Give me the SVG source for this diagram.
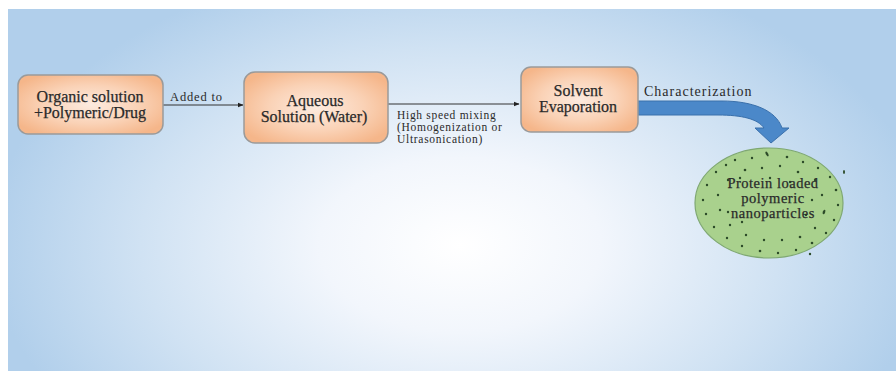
<svg xmlns="http://www.w3.org/2000/svg" width="896" height="371" viewBox="0 0 896 371">
  <defs>
    <radialGradient id="bg" gradientUnits="userSpaceOnUse" cx="460" cy="245" r="470" gradientTransform="translate(460 245) scale(1 0.62) translate(-460 -245)">
      <stop offset="0" stop-color="#ffffff"/>
      <stop offset="0.3" stop-color="#f2f6fc"/>
      <stop offset="0.68" stop-color="#d0e2f3"/>
      <stop offset="1" stop-color="#b1cfeb"/>
    </radialGradient>
    <radialGradient id="peach" cx="0.5" cy="0.5" r="0.6">
      <stop offset="0" stop-color="#fdebdf"/>
      <stop offset="0.55" stop-color="#fad2b6"/>
      <stop offset="1" stop-color="#f5b68a"/>
    </radialGradient>
    <marker id="tip" viewBox="0 0 10 10" refX="9" refY="5" markerWidth="6" markerHeight="6" orient="auto" markerUnits="userSpaceOnUse">
      <path d="M0,1 L10,5 L0,9 Z" fill="#222"/>
    </marker>
    <style>
      .box { fill: url(#peach); stroke: #9a9a9a; stroke-width: 1.5; }
      .lbl { fill: #2a2a2a; text-anchor: middle; }
      .node { font-size: 16px; stroke: #2a2a2a; stroke-width: 0.25; }
      .small { font-size: 14.5px; letter-spacing: 0.5px; }
      .edge { font-size: 11.5px; text-anchor: start; letter-spacing: 0.7px; }
      .added { font-size: 12.5px; letter-spacing: 0.85px; }
      .char { font-size: 14px; letter-spacing: 1px; }
      .line { stroke: #333; stroke-width: 1; fill: none; }
      .dot { fill: #2c4a28; }
    </style>
  </defs>

  <!-- backdrop -->
  <rect width="896" height="371" fill="#ffffff"/>
  <rect x="8" y="9" width="888" height="362" fill="url(#bg)"/>

  <g font-family="'Liberation Serif', 'Times New Roman', 'DejaVu Serif', serif">
  <!-- connectors -->
  <g id="connectors">
    <line class="line" x1="163" y1="105" x2="243" y2="105" marker-end="url(#tip)"/>
    <text class="lbl edge added" x="170" y="101">Added to</text>
    <line class="line" x1="388" y1="104" x2="519" y2="104" marker-end="url(#tip)"/>
    <text class="lbl edge" x="397" y="119">High speed mixing</text>
    <text class="lbl edge" x="397" y="131">(Homogenization or</text>
    <text class="lbl edge" x="397" y="143">Ultrasonication)</text>
    <text class="lbl edge char" x="644" y="96">Characterization</text>
    <!-- curved block arrow -->
    <path d="M638,101 L722,101 C752,101 776,110 782,128 L789,128 L771,143 L755,128 L764,128 C758,119 742,115 718,115 L638,115 Z" fill="#4b88c9" stroke="#3a70ab" stroke-width="1"/>
  </g>

  <g id="organic">
    <rect class="box" x="18" y="75" width="145" height="59" rx="10"/>
    <text class="lbl node" x="90" y="102">Organic solution</text>
    <text class="lbl node" x="90" y="118">+Polymeric/Drug</text>
  </g>

  <g id="aqueous">
    <rect class="box" x="244" y="72" width="144" height="71" rx="11"/>
    <text class="lbl node" x="315" y="106">Aqueous</text>
    <text class="lbl node" x="314" y="122">Solution (Water)</text>
  </g>

  <g id="evaporation">
    <rect class="box" x="521" y="67" width="117" height="65" rx="10"/>
    <text class="lbl node" x="578" y="96">Solvent</text>
    <text class="lbl node" x="578" y="112">Evaporation</text>
  </g>

  <g id="nanoparticles">
    <ellipse cx="769" cy="203" rx="74" ry="55" fill="#a9d18d" stroke="#7fa872" stroke-width="1.2"/>
    <g>
      <circle class="dot" cx="735" cy="160" r="1.2"/><circle class="dot" cx="752" cy="158" r="1.2"/>
      <ellipse class="dot" cx="767" cy="154" rx="1.2" ry="2.6" transform="rotate(-30 767 154)"/>
      <circle class="dot" cx="787" cy="157" r="1.3"/><circle class="dot" cx="803" cy="162" r="1.2"/>
      <circle class="dot" cx="818" cy="168" r="1.2"/><circle class="dot" cx="830" cy="177" r="1.2"/>
      <circle class="dot" cx="836" cy="190" r="1.3"/><circle class="dot" cx="838" cy="205" r="1.2"/>
      <circle class="dot" cx="834" cy="220" r="1.2"/><circle class="dot" cx="826" cy="233" r="1.2"/>
      <circle class="dot" cx="812" cy="243" r="1.3"/><circle class="dot" cx="796" cy="250" r="1.2"/>
      <circle class="dot" cx="778" cy="253" r="1.2"/><circle class="dot" cx="760" cy="251" r="1.3"/>
      <circle class="dot" cx="742" cy="246" r="1.2"/><circle class="dot" cx="727" cy="238" r="1.2"/>
      <circle class="dot" cx="714" cy="227" r="1.2"/><circle class="dot" cx="706" cy="214" r="1.2"/>
      <circle class="dot" cx="703" cy="200" r="1.2"/><circle class="dot" cx="707" cy="185" r="1.2"/>
      <circle class="dot" cx="716" cy="172" r="1.2"/><circle class="dot" cx="726" cy="165" r="1.2"/>
      <circle class="dot" cx="745" cy="170" r="1.3"/><circle class="dot" cx="762" cy="168" r="1.2"/>
      <circle class="dot" cx="780" cy="166" r="1.2"/><circle class="dot" cx="798" cy="172" r="1.3"/>
      <circle class="dot" cx="815" cy="180" r="1.2"/><circle class="dot" cx="822" cy="195" r="1.2"/>
      <ellipse class="dot" cx="824" cy="212" rx="1.2" ry="2.4" transform="rotate(20 824 212)"/>
      <circle class="dot" cx="815" cy="228" r="1.2"/><circle class="dot" cx="800" cy="237" r="1.3"/>
      <circle class="dot" cx="782" cy="240" r="1.2"/><circle class="dot" cx="764" cy="240" r="1.2"/>
      <circle class="dot" cx="746" cy="235" r="1.2"/><circle class="dot" cx="730" cy="225" r="1.2"/>
      <circle class="dot" cx="720" cy="210" r="1.2"/><circle class="dot" cx="718" cy="195" r="1.2"/>
      <circle class="dot" cx="728" cy="180" r="1.2"/><circle class="dot" cx="740" cy="178" r="1.2"/>
      <circle class="dot" cx="790" cy="182" r="1.2"/><circle class="dot" cx="770" cy="178" r="1.2"/>
      <circle class="dot" cx="812" cy="200" r="1.2"/><circle class="dot" cx="806" cy="215" r="1.2"/>
      <circle class="dot" cx="728" cy="212" r="1.2"/><circle class="dot" cx="742" cy="222" r="1.2"/>
      <ellipse class="dot" cx="844" cy="172" rx="1" ry="2"/>
      <circle class="dot" cx="810" cy="254" r="1.2"/>
    </g>
    <text class="lbl node small" x="773" y="188">Protein loaded</text>
    <text class="lbl node small" x="773" y="203">polymeric</text>
    <text class="lbl node small" x="773" y="218">nanoparticles</text>
  </g>
  </g>
</svg>
